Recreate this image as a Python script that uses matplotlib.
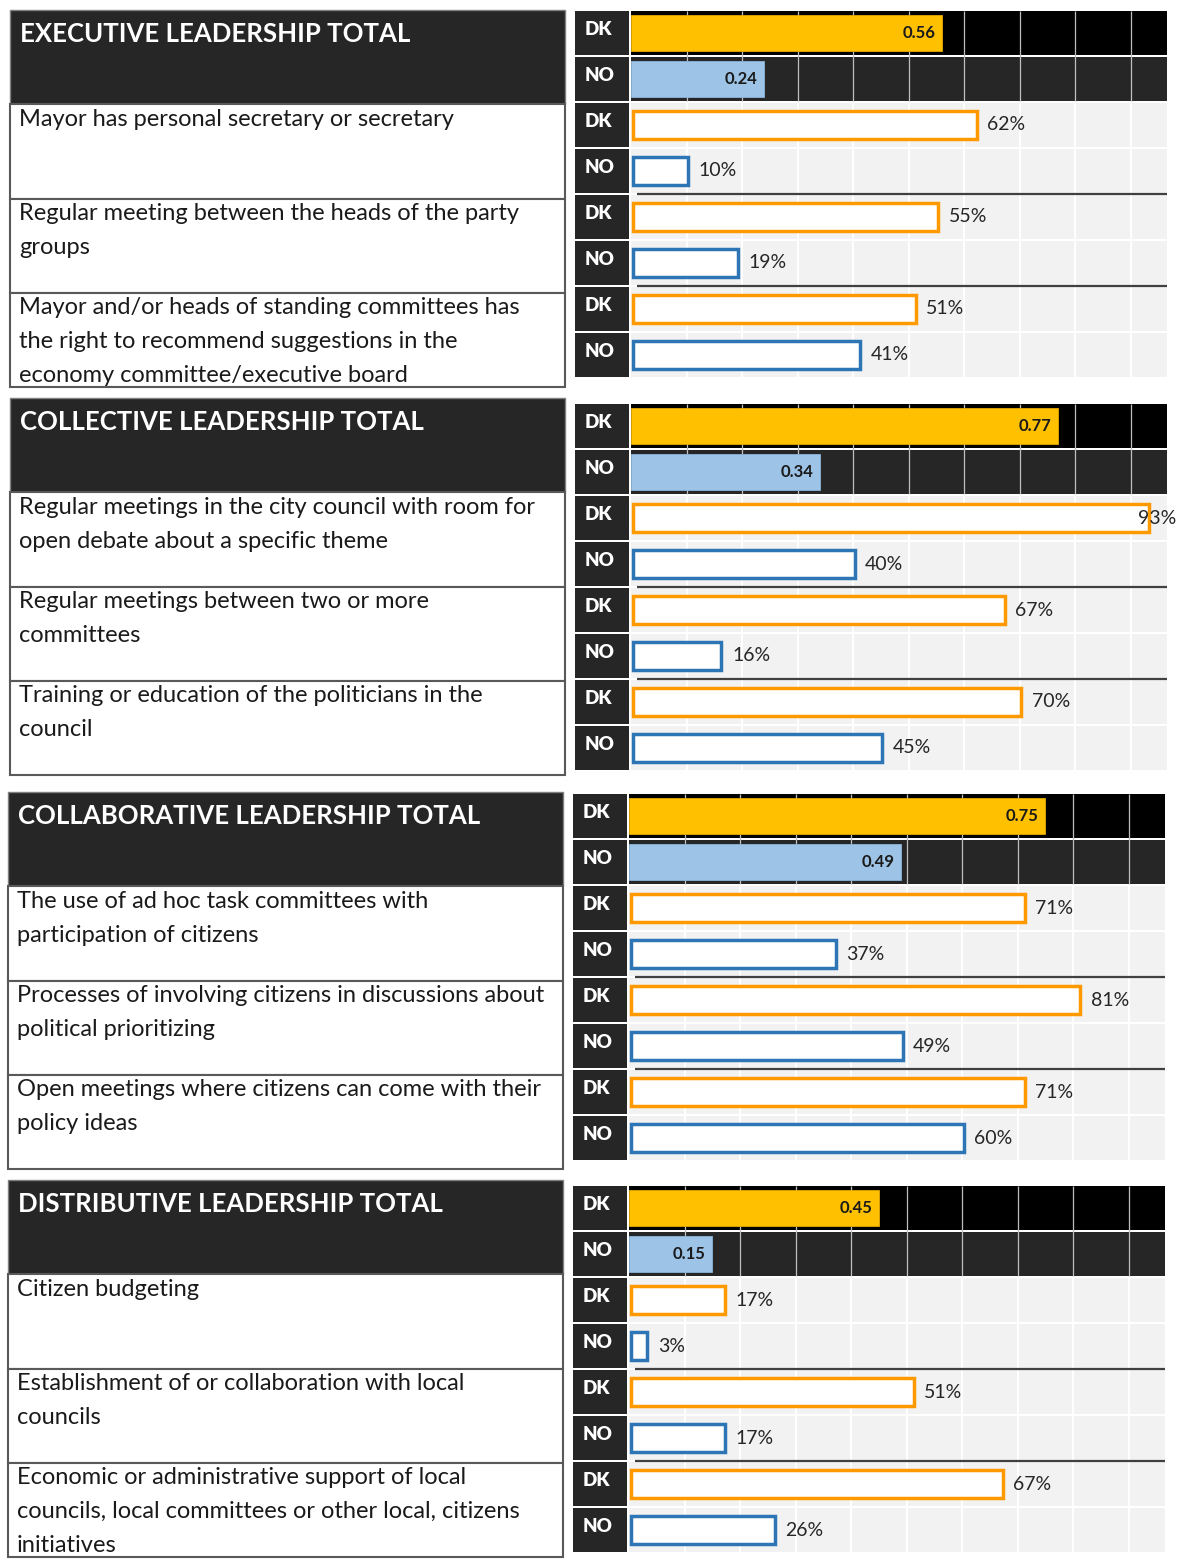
import matplotlib.pyplot as plt
from matplotlib.patches import Rectangle

plt.rcParams['font.family'] = ['Lato', 'DejaVu Sans']

# --- data ---------------------------------------------------------------
section_titles = ["EXECUTIVE LEADERSHIP TOTAL",
                  "COLLECTIVE LEADERSHIP TOTAL",
                  "COLLABORATIVE LEADERSHIP TOTAL",
                  "DISTRIBUTIVE LEADERSHIP TOTAL"]

item_labels = [
    ["Mayor has personal secretary or secretary",
     "Regular meeting between the heads of the party\ngroups",
     "Mayor and/or heads of standing committees has\nthe right to recommend suggestions in the\neconomy committee/executive board"],
    ["Regular meetings in the city council with room for\nopen debate about a specific theme",
     "Regular meetings between two or more\ncommittees",
     "Training or education of the politicians in the\ncouncil"],
    ["The use of ad hoc task committees with\nparticipation of citizens",
     "Processes of involving citizens in discussions about\npolitical prioritizing",
     "Open meetings where citizens can come with their\npolicy ideas"],
    ["Citizen budgeting",
     "Establishment of or collaboration with local\ncouncils",
     "Economic or administrative support of local\ncouncils, local committees or other local, citizens\ninitiatives"],
]

dk_total = [0.56, 0.77, 0.75, 0.45]
no_total = [0.24, 0.34, 0.49, 0.15]
dk_pct = [[62, 55, 51], [93, 67, 70], [71, 81, 71], [17, 51, 67]]
no_pct = [[10, 19, 41], [40, 16, 45], [37, 49, 60], [3, 17, 26]]

# --- layout (pixels) ----------------------------------------------------
W, H = 1183, 1559
left_top = [10, 398, 792, 1180]
left_h = 377
right_top = [10, 403, 793, 1185]
right_h = 368
x_shift = [0, 0, -2, -2]
left_x0, left_x1 = 10, 565
lab_x0, bar_x0, bar_x1 = 575, 631, 1167
px_per_unit = 555.0

GOLD = '#FFC000'
LIGHTBLUE = '#9DC3E6'
ORANGE = '#FF9900'
BLUE = '#2E75B6'
DARK = '#262626'

fig = plt.figure(figsize=(W / 100, H / 100), dpi=100)


def add_ax(x0, y0, w, h):
    return fig.add_axes([x0 / W, 1 - (y0 + h) / H, w / W, h / H])


for s in range(4):
    dx = x_shift[s]

    # ---------- left: text boxes ----------
    axl = add_ax(left_x0 + dx, left_top[s], left_x1 - left_x0, left_h)
    axl.set_xlim(0, left_x1 - left_x0)
    axl.set_ylim(8, 0)
    axl.axis('off')
    axl.add_patch(Rectangle((0, 0), left_x1 - left_x0, 2, facecolor=DARK,
                            edgecolor='#7f7f7f', lw=1, clip_on=False))
    axl.text(10, 0.5, section_titles[s], color='white', fontweight='bold',
             fontsize=18.5, va='center', ha='left')
    for i in range(3):
        y = 2 + 2 * i
        axl.add_patch(Rectangle((0, y), left_x1 - left_x0, 2, facecolor='white',
                                edgecolor='#595959', lw=1.5, clip_on=False))
        axl.text(9, y + 0.1, item_labels[s][i], color='#1a1a1a', fontsize=17,
                 va='top', ha='left', linespacing=1.74)

    # ---------- right: bar panel ----------
    axr = add_ax(lab_x0 + dx, right_top[s], bar_x1 - lab_x0, right_h)
    xmin = -(bar_x0 - lab_x0) / px_per_unit
    xmax = (bar_x1 - bar_x0) / px_per_unit
    axr.set_xlim(xmin, xmax)
    axr.set_ylim(8, 0)
    axr.axis('off')

    # row backgrounds
    row_bg = ['#000000', DARK] + ['#F2F2F2'] * 6
    for r in range(8):
        axr.add_patch(Rectangle((0, r + 0.03), xmax, 0.94, facecolor=row_bg[r],
                                edgecolor='none', zorder=0))
        axr.add_patch(Rectangle((xmin, r + 0.02), -xmin - 0.003, 0.96,
                                facecolor=DARK, edgecolor='none', zorder=0))
        axr.text(xmin + 0.017, r + 0.42, 'DK' if r % 2 == 0 else 'NO',
                 color='white', fontweight='heavy', fontsize=13.5,
                 va='center', ha='left')

    # grid lines
    for g in [0.1 * k for k in range(1, 10)]:
        axr.vlines(g, 0.03, 1.97, color='#BFBFBF', lw=0.9, zorder=1)
        axr.vlines(g, 2.03, 8, color='white', lw=1.4, zorder=1)

    # group separators
    for yy in [4, 6]:
        axr.hlines(yy, 0.01, xmax, color='#404040', lw=1.6, zorder=2)

    # totals
    axr.barh(0.5, dk_total[s], height=0.8, left=0, color=GOLD,
             edgecolor='#E0A800', lw=0.6, zorder=3)
    axr.text(dk_total[s] - 0.012, 0.5, f"{dk_total[s]:.2f}", ha='right',
             va='center', fontsize=12, fontweight='bold', color='#1a1a1a', zorder=4)
    axr.barh(1.5, no_total[s], height=0.8, left=0, color=LIGHTBLUE,
             edgecolor='#8AB4DC', lw=0.6, zorder=3)
    axr.text(no_total[s] - 0.012, 1.5, f"{no_total[s]:.2f}", ha='right',
             va='center', fontsize=12, fontweight='bold', color='#1a1a1a', zorder=4)

    # items
    for i in range(3):
        ydk = 2 + 2 * i + 0.5
        yno = ydk + 1
        vdk = dk_pct[s][i] / 100
        vno = no_pct[s][i] / 100
        axr.barh(ydk, vdk, height=0.6, left=0.003, facecolor='white',
                 edgecolor=ORANGE, lw=2.5, zorder=3)
        if vdk + 0.025 + 0.075 > xmax + 0.01:
            # too close to the edge: label sits over the end of the bar
            axr.text(xmax + 0.016, ydk, f"{dk_pct[s][i]}%", ha='right',
                     va='center', fontsize=14, color='#262626', zorder=4)
        else:
            axr.text(vdk + 0.022, ydk, f"{dk_pct[s][i]}%", ha='left',
                     va='center', fontsize=14, color='#262626', zorder=4)
        axr.barh(yno, vno, height=0.6, left=0.003, facecolor='white',
                 edgecolor=BLUE, lw=2.5, zorder=3)
        axr.text(vno + 0.022, yno, f"{no_pct[s][i]}%", ha='left', va='center',
                 fontsize=14, color='#262626', zorder=4)

fig.savefig('out.png', dpi=100)
